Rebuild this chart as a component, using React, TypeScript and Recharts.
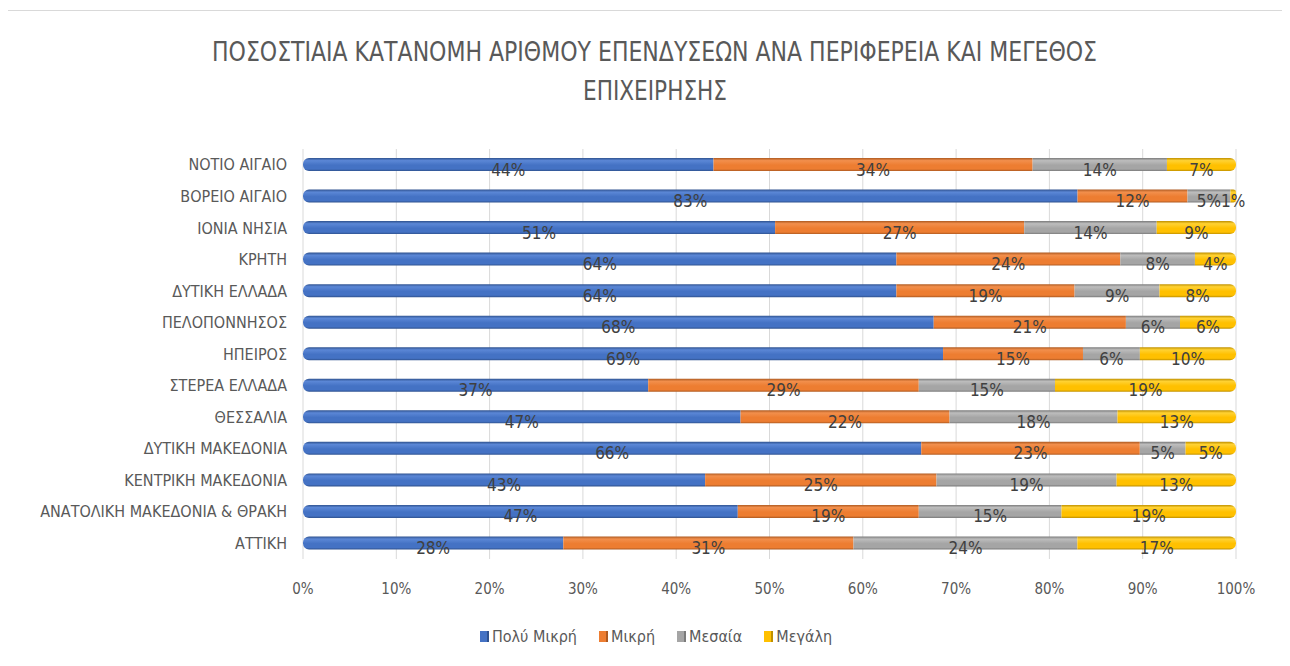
import React from "react";
import {
  Bar,
  BarChart,
  CartesianGrid,
  LabelList,
  Legend,
  XAxis,
  YAxis,
} from "recharts";

const regions = [
  "ΝΟΤΙΟ ΑΙΓΑΙΟ",
  "ΒΟΡΕΙΟ ΑΙΓΑΙΟ",
  "ΙΟΝΙΑ ΝΗΣΙΑ",
  "ΚΡΗΤΗ",
  "ΔΥΤΙΚΗ ΕΛΛΑΔΑ",
  "ΠΕΛΟΠΟΝΝΗΣΟΣ",
  "ΗΠΕΙΡΟΣ",
  "ΣΤΕΡΕΑ ΕΛΛΑΔΑ",
  "ΘΕΣΣΑΛΙΑ",
  "ΔΥΤΙΚΗ ΜΑΚΕΔΟΝΙΑ",
  "ΚΕΝΤΡΙΚΗ ΜΑΚΕΔΟΝΙΑ",
  "ΑΝΑΤΟΛΙΚΗ ΜΑΚΕΔΟΝΙΑ & ΘΡΑΚΗ",
  "ΑΤΤΙΚΗ",
];

// percentages per region (top to bottom)
const veryMicro = [44.0, 83.1, 50.6, 63.6, 63.6, 67.6, 68.6, 37.0, 46.9, 66.2, 43.1, 46.6, 27.9];
const micro = [34.2, 11.8, 26.7, 24.0, 19.1, 20.6, 15.0, 29.0, 22.4, 23.4, 24.8, 19.4, 31.1];
const medium = [14.4, 4.6, 14.2, 8.0, 9.1, 5.8, 6.1, 14.6, 18.0, 4.9, 19.3, 15.3, 24.0];
const large = [7.4, 0.6, 8.5, 4.4, 8.2, 6.0, 10.3, 19.4, 12.7, 5.4, 12.8, 18.7, 17.0];

const xTicks = [0, 10, 20, 30, 40, 50, 60, 70, 80, 90, 100];

const seriesNames = ["Πολύ Μικρή", "Μικρή", "Μεσαία", "Μεγάλη"];
const seriesKeys = ["veryMicro", "micro", "medium", "large"];
const seriesColors = ["#4472C4", "#ED7D31", "#A5A5A5", "#FFC000"];
const seriesDark = ["#2F528F", "#AE5A21", "#7B7B7B", "#BF9000"];
const seriesLight = ["#5B87D6", "#F28F4C", "#BDBDBD", "#FFD233"];

const data = regions.map((name, i) => ({
  name,
  veryMicro: veryMicro[i],
  micro: micro[i],
  medium: medium[i],
  large: large[i],
}));

const FONT = "'Liberation Sans Narrow', 'DejaVu Sans Condensed', 'Open Sans', sans-serif";
const TEXT = "#595959";

const pct = (v: number) => `${Math.round(v)}%`;

const LegendContent = () => (
  <div
    style={{
      display: "flex",
      justifyContent: "center",
      gap: 22,
      fontFamily: FONT,
      fontSize: 16,
      color: TEXT,
      paddingLeft: 14,
    }}
  >
    {seriesNames.map((n, i) => (
      <span key={n} style={{ display: "flex", alignItems: "center", gap: 3 }}>
        <span
          style={{
            display: "inline-block",
            width: 7,
            height: 11,
            background: seriesColors[i],
            borderRight: `2px solid ${seriesDark[i]}`,
          }}
        />
        {n}
      </span>
    ))}
  </div>
);

export default function App() {
  return (
    <div style={{ position: "relative", width: 1282, height: 658, fontFamily: FONT }}>
      <div
        style={{
          position: "absolute",
          left: -1,
          top: 2,
          width: 1300,
          height: 700,
          border: "1px solid #d9d9d9",
          boxSizing: "border-box",
        }}
      />
      <svg
        width={1282}
        height={110}
        style={{ position: "absolute", left: 0, top: 0 }}
      >
        <text
          x={646.5}
          y={53}
          textAnchor="middle"
          textLength={885}
          lengthAdjust="spacingAndGlyphs"
          fontSize={27}
          fill={TEXT}
          fontFamily={FONT}
        >
          ΠΟΣΟΣΤΙΑΙΑ ΚΑΤΑΝΟΜΗ ΑΡΙΘΜΟΥ ΕΠΕΝΔΥΣΕΩΝ ΑΝΑ ΠΕΡΙΦΕΡΕΙΑ ΚΑΙ ΜΕΓΕΘΟΣ
        </text>
        <text
          x={647}
          y={92}
          textAnchor="middle"
          textLength={144}
          lengthAdjust="spacingAndGlyphs"
          fontSize={27}
          fill={TEXT}
          fontFamily={FONT}
        >
          ΕΠΙΧΕΙΡΗΣΗΣ
        </text>
      </svg>
      <BarChart
        width={1282}
        height={658}
        data={data}
        layout="vertical"
        stackOffset="expand"
        margin={{ top: 141, right: 54, bottom: 67, left: 0 }}
        style={{ position: "absolute", left: 0, top: 0 }}
      >
        <defs>
          {seriesKeys.map((k, i) => (
            <linearGradient key={k} id={`grad-${k}`} x1="0" y1="0" x2="0" y2="1">
              <stop offset="0%" stopColor={seriesDark[i]} />
              <stop offset="20%" stopColor={seriesLight[i]} />
              <stop offset="55%" stopColor={seriesColors[i]} />
              <stop offset="85%" stopColor={seriesColors[i]} />
              <stop offset="100%" stopColor={seriesDark[i]} />
            </linearGradient>
          ))}
        </defs>
        <CartesianGrid horizontal={false} stroke="#d9d9d9" />
        <XAxis
          type="number"
          domain={[0, 1]}
          ticks={xTicks.map((t) => t / 100)}
          tickFormatter={(v: number) => `${Math.round(v * 100)}%`}
          axisLine={false}
          tickLine={false}
          tickSize={0}
          tickMargin={24}
          height={40}
          interval={0}
          tick={{ fill: TEXT, fontSize: 15, fontFamily: FONT }}
        />
        <YAxis
          type="category"
          dataKey="name"
          width={295}
          axisLine={false}
          tickLine={false}
          tickSize={0}
          tickMargin={16}
          interval={0}
          tick={{ fill: TEXT, fontSize: 16, fontFamily: FONT }}
        />
        <Legend
          verticalAlign="middle"
          align="center"
          layout="horizontal"
          content={<LegendContent />}
          wrapperStyle={{ top: 619, left: 0, width: 1282 }}
        />
        {seriesKeys.map((k, i) => (
          <Bar
            key={k}
            dataKey={k}
            name={seriesNames[i]}
            stackId="a"
            barSize={13}
            fill={`url(#grad-${k})`}
            radius={i === 0 ? [6, 0, 0, 6] : i === 3 ? [0, 6, 6, 0] : 0}
            isAnimationActive={false}
          >
            <LabelList
              dataKey={k}
              position="center"
              dy={5}
              formatter={(v: number) => pct(v)}
              fill="#404040"
              fontSize={17}
              fontFamily={FONT}
            />
          </Bar>
        ))}
      </BarChart>
    </div>
  );
}
